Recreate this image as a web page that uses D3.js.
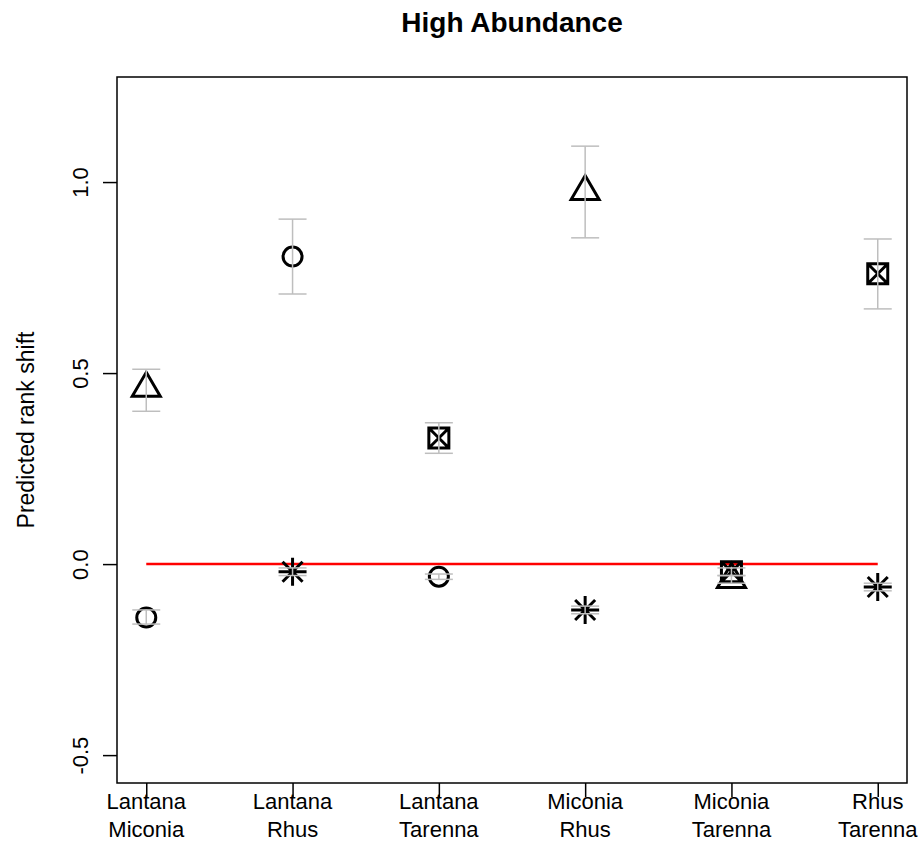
<!DOCTYPE html>
<html>
<head>
<meta charset="utf-8">
<script src="https://cdn.jsdelivr.net/npm/d3@7"></script>
<style>
  body { margin: 0; background: #fff; }
  text { font-family: "Liberation Sans", Arial, sans-serif; }
</style>
</head>
<body>
<div id="chart"></div>
<script>
// Species pairs on the x axis
var pairs = [
  ["Lantana", "Miconia"],
  ["Lantana", "Rhus"],
  ["Lantana", "Tarenna"],
  ["Miconia", "Rhus"],
  ["Miconia", "Tarenna"],
  ["Rhus", "Tarenna"]
];

// One entry per plotted point
var pointPair    = [0, 0, 1, 1, 2, 2, 3, 3, 4, 4, 5, 5];
var pointSpecies = ["Miconia", "Lantana", "Lantana", "Rhus", "Tarenna", "Lantana",
                    "Miconia", "Rhus", "Tarenna", "Miconia", "Tarenna", "Rhus"];
var rankShift    = [0.46, -0.14, 0.805, -0.02, 0.33, -0.033, 0.975, -0.12, -0.02, -0.04, 0.76, -0.06];
var lowerBound   = [0.40, -0.157, 0.707, -0.03, 0.29, -0.04, 0.854, -0.13, -0.03, -0.05, 0.668, -0.07];
var upperBound   = [0.51, -0.12, 0.903, -0.01, 0.37, -0.026, 1.094, -0.11, -0.01, -0.03, 0.851, -0.05];

var yTicks = [-0.5, 0.0, 0.5, 1.0];
var yTickLabels = ["-0.5", "0.0", "0.5", "1.0"];
var yDomain = [-0.573, 1.275];
var refLevel = 0;

// symbol for each species
var speciesShape = { Lantana: "circle", Miconia: "triangle", Rhus: "asterisk", Tarenna: "boxx" };

var svgWidth = 919;
var svgHeight = 844;

var margin = { top: 77, right: 12, bottom: 61, left: 117 };
var chartWidth = svgWidth - margin.left - margin.right;
var chartHeight = svgHeight - margin.top - margin.bottom;

var svg = d3.select("#chart")
  .append("svg")
  .attr("width", svgWidth)
  .attr("height", svgHeight);

var chartGroup = svg.append("g")
  .attr("transform", `translate(${margin.left}, ${margin.top})`);

// x: pair index 1..6 with R style 4% padding
var xScale = d3.scaleLinear()
  .domain([0.8, 6.2])
  .range([0, chartWidth]);

var yScale = d3.scaleLinear()
  .domain(yDomain)
  .range([chartHeight, 0]);

// y axis
var leftAxis = d3.axisLeft(yScale)
  .tickValues(yTicks)
  .tickSize(14)
  .tickPadding(0)
  .tickFormat((d, i) => yTickLabels[i]);

var yAxisG = chartGroup.append("g").call(leftAxis);
yAxisG.select(".domain").remove();
yAxisG.selectAll("line").attr("stroke", "#000").attr("stroke-width", 1.5);
yAxisG.selectAll("text")
  .attr("x", null).attr("dy", null)
  .attr("transform", "translate(-29,0) rotate(-90)")
  .attr("text-anchor", "middle")
  .attr("fill", "#000")
  .style("font-size", "22px")
  .style("font-family", "Liberation Sans, Arial, sans-serif");

// x axis
var bottomAxis = d3.axisBottom(xScale)
  .tickValues(d3.range(1, pairs.length + 1))
  .tickSize(14)
  .tickFormat("");

var xAxisG = chartGroup.append("g")
  .attr("transform", `translate(0, ${chartHeight})`)
  .call(bottomAxis);
xAxisG.select(".domain").remove();
xAxisG.selectAll("line").attr("stroke", "#000").attr("stroke-width", 1.5);

pairs.forEach(function(p, i) {
  var t = chartGroup.append("text")
    .attr("x", xScale(i + 1))
    .attr("y", chartHeight + 26)
    .attr("text-anchor", "middle")
    .style("font-size", "22px")
    .attr("fill", "#000");
  t.append("tspan").attr("x", xScale(i + 1)).text(p[0]);
  t.append("tspan").attr("x", xScale(i + 1)).attr("dy", 28).text(p[1]);
});

// reference line at zero
chartGroup.append("line")
  .attr("x1", xScale(1))
  .attr("x2", xScale(pairs.length))
  .attr("y1", yScale(refLevel))
  .attr("y2", yScale(refLevel))
  .attr("stroke", "#ff0000")
  .attr("stroke-width", 2.5);

// points
function shapePath(kind) {
  var p = d3.path();
  if (kind === "triangle") {
    p.moveTo(0, -16); p.lineTo(14, 8); p.lineTo(-14, 8); p.closePath();
  } else if (kind === "boxx") {
    p.rect(-10, -10, 20, 20);
    p.moveTo(-10, -10); p.lineTo(10, 10);
    p.moveTo(10, -10); p.lineTo(-10, 10);
  } else if (kind === "asterisk") {
    p.moveTo(-14, 0); p.lineTo(14, 0);
    p.moveTo(0, -14); p.lineTo(0, 14);
    p.moveTo(-10, -10); p.lineTo(10, 10);
    p.moveTo(10, -10); p.lineTo(-10, 10);
  }
  return p.toString();
}

rankShift.forEach(function(v, i) {
  var kind = speciesShape[pointSpecies[i]];
  var cx = xScale(pointPair[i] + 1);
  var cy = yScale(v);
  var g = chartGroup.append("g")
    .attr("transform", `translate(${cx}, ${cy})`);
  if (kind === "circle") {
    g.append("circle")
      .attr("r", 9.5)
      .attr("fill", "none")
      .attr("stroke", "#000")
      .attr("stroke-width", 3);
  } else {
    g.append("path")
      .attr("d", shapePath(kind))
      .attr("fill", "none")
      .attr("stroke", "#000")
      .attr("stroke-width", 3)
      .attr("stroke-linejoin", "miter");
  }
});

// error bars
var capHalf = 14;
rankShift.forEach(function(v, i) {
  var cx = xScale(pointPair[i] + 1);
  var eb = chartGroup.append("g")
    .attr("stroke", "#bebebe")
    .attr("stroke-width", 1.5);
  eb.append("line")
    .attr("x1", cx).attr("x2", cx)
    .attr("y1", yScale(lowerBound[i])).attr("y2", yScale(upperBound[i]));
  eb.append("line")
    .attr("x1", cx - capHalf).attr("x2", cx + capHalf)
    .attr("y1", yScale(lowerBound[i])).attr("y2", yScale(lowerBound[i]));
  eb.append("line")
    .attr("x1", cx - capHalf).attr("x2", cx + capHalf)
    .attr("y1", yScale(upperBound[i])).attr("y2", yScale(upperBound[i]));
});

// plot box
chartGroup.append("rect")
  .attr("x", 0).attr("y", 0)
  .attr("width", chartWidth).attr("height", chartHeight)
  .attr("fill", "none")
  .attr("stroke", "#000")
  .attr("stroke-width", 1.5);

// y label
svg.append("text")
  .attr("transform", `translate(34, ${margin.top + chartHeight / 2}) rotate(-90)`)
  .attr("text-anchor", "middle")
  .style("font-size", "23px")
  .text("Predicted rank shift");

// title
svg.append("text")
  .attr("x", margin.left + chartWidth / 2)
  .attr("y", 32)
  .attr("text-anchor", "middle")
  .style("font-size", "28px")
  .style("font-weight", "bold")
  .text("High Abundance");
</script>
</body>
</html>
